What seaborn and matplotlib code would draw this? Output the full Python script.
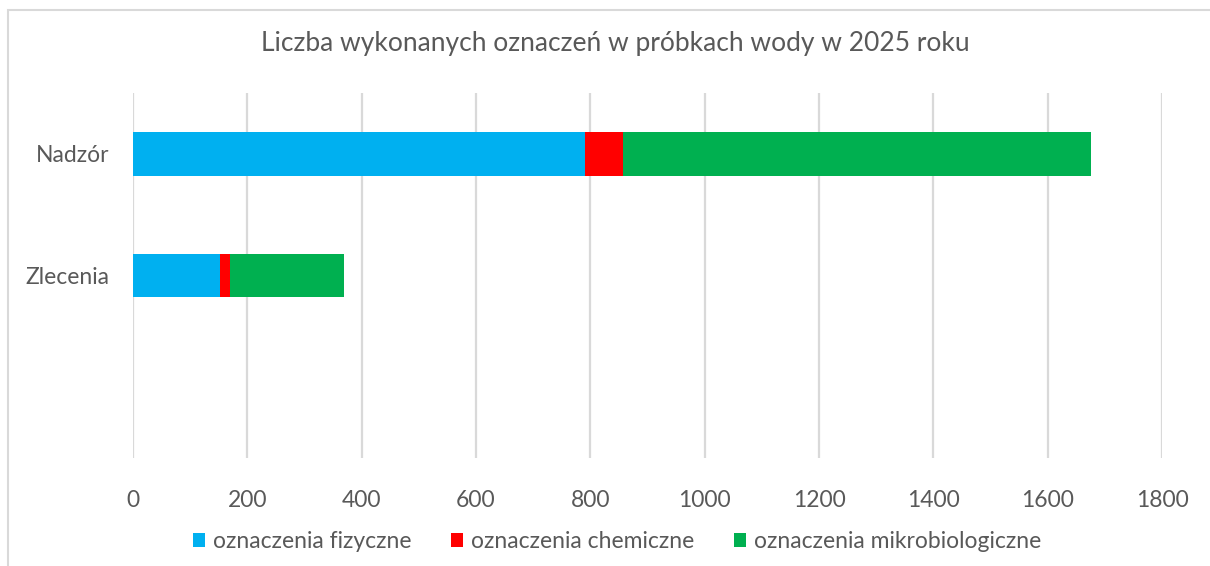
import matplotlib
matplotlib.use("Agg")
import matplotlib.pyplot as plt
from matplotlib.patches import Patch, Rectangle
import pandas as pd
import seaborn as sns

# data
categories = ["Nadzór", "Zlecenia"]
fizyczne = [790, 152]
chemiczne = [68, 18]
mikrobiologiczne = [817, 199]
series_names = ["oznaczenia fizyczne", "oznaczenia chemiczne", "oznaczenia mikrobiologiczne"]
colors = ["#00B0F0", "#FF0000", "#00B050"]
x_ticks = [0, 200, 400, 600, 800, 1000, 1200, 1400, 1600, 1800]

sns.set_style("white")
plt.rcParams["font.family"] = ["Lato", "DejaVu Sans"]
text_color = "#595959"
grid_color = "#D9D9D9"

df = pd.DataFrame({"kategoria": categories,
                   "fiz": fizyczne, "chem": chemiczne, "mikro": mikrobiologiczne})
df["fiz_chem"] = df["fiz"] + df["chem"]
df["total"] = df["fiz_chem"] + df["mikro"]

fig = plt.figure(figsize=(12.1, 5.66), dpi=100)
ax = fig.add_axes([133 / 1210, 1 - 458 / 566, (1162 - 133) / 1210, (458 - 93) / 566])

# stacked bars: draw cumulative totals back to front
for col, color in zip(["total", "fiz_chem", "fiz"], colors[::-1]):
    sns.barplot(data=df, x=col, y="kategoria", order=categories, color=color,
                width=0.36, orient="h", ax=ax, saturation=1, linewidth=0)

ax.set_xlim(0, 1800)
ax.set_ylim(2.5, -0.5)
ax.set_xticks(x_ticks)
ax.set_xticklabels([str(t) for t in x_ticks])
ax.set_xlabel("")
ax.set_ylabel("")
ax.grid(axis="x", color=grid_color, linewidth=1.6)
ax.set_axisbelow(True)
for s in ax.spines.values():
    s.set_visible(False)
ax.tick_params(axis="both", length=0, labelsize=16.5, colors=text_color)
ax.tick_params(axis="x", pad=23)
ax.tick_params(axis="y", pad=17)

fig.text(615 / 1210, 1 - 44 / 566, "Liczba wykonanych oznaczeń w próbkach wody w 2025 roku",
         ha="center", va="center", fontsize=19, color=text_color)

handles = [Patch(facecolor=c, edgecolor="none") for c in colors]
fig.legend(handles, series_names, loc="center", bbox_to_anchor=(617 / 1210, 1 - 542 / 566),
           ncol=3, frameon=False, fontsize=16.5, handlelength=0.55, handleheight=0.55,
           handletextpad=0.35, columnspacing=1.7, labelcolor=text_color)

# chart frame
fig.patches.append(Rectangle((8 / 1210, -0.05), 1.1, 1 - 10 / 566 + 0.05,
                             transform=fig.transFigure, fill=False,
                             edgecolor=grid_color, linewidth=1.5))

fig.savefig("out.png", dpi=100)
